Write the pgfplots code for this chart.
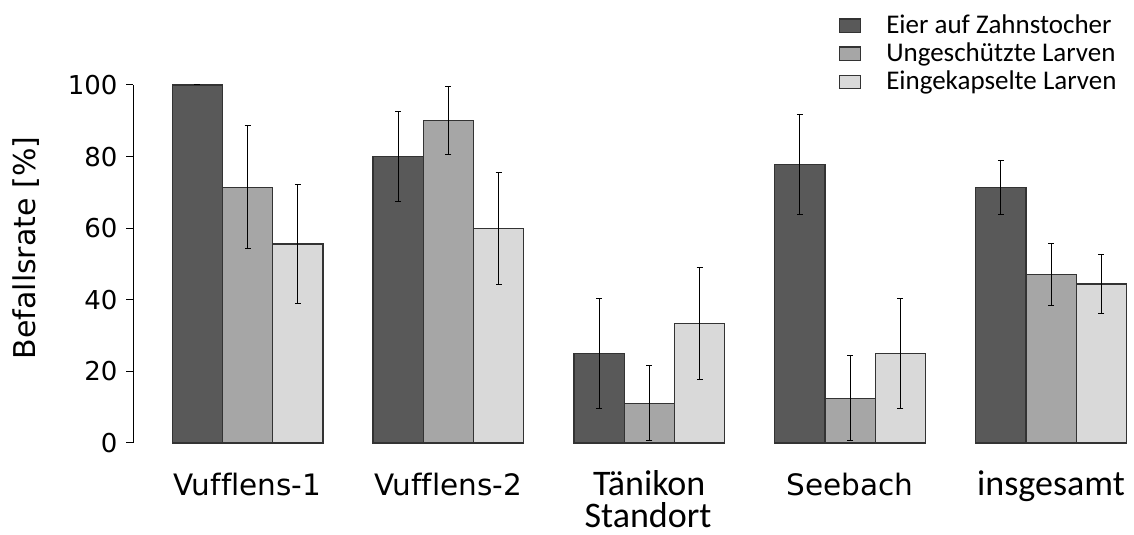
\documentclass[border=0pt]{standalone}
\usepackage{pgfplots}
\usepackage{pgfplotstable}
\pgfplotsset{compat=1.18}
\usepackage{fontspec}
\setmainfont[Ligatures=NoCommon]{DejaVu Sans}
\newfontfamily\calfont{Carlito}

\definecolor{dunkel}{HTML}{595959}
\definecolor{mittel}{HTML}{A6A6A6}
\definecolor{hell}{HTML}{D9D9D9}

% x  mean  +-error  (three series)
\pgfplotstableread{
x a    ae   b    be   c    ce
0 100  0    71.4 17.2 55.6 16.7
1 80.0 12.6 90.0 9.5  60.0 15.6
2 25.0 15.3 11.1 10.5 33.4 15.7
3 77.8 13.9 12.5 11.8 25.0 15.3
4 71.4 7.6  47.1 8.7  44.4 8.3
}\befall

\begin{document}
\begin{tikzpicture}
\begin{axis}[
    scale only axis,
    width=400.4pt, height=143.2pt,
    ybar=0pt, bar width=20.1pt,
    xmin=-0.570, xmax=4.413,
    ymin=0, ymax=100,
    clip=false,
    axis lines*=left,
    x axis line style={draw=none},
    xtick={0,1,2,3,4},
    xticklabels={Vufflens-1,Vufflens-2,{\calfont\fontsize{14.4}{17}\selectfont T\"anikon},Seebach,{\calfont\fontsize{14.4}{17}\selectfont insgesamt}},
    x tick style={draw=none},
    xticklabel style={anchor=base, yshift=-18.2pt, font=\fontsize{11.8}{14}\selectfont},
    ytick={0,20,...,100},
    ytick pos=left,
    tick align=outside,
    major tick length=2.7pt,
    y tick style={black, line width=0.4pt},
    y axis line style={line width=0.4pt},
    yticklabel style={font=\fontsize{10.4}{12}\selectfont},
    /pgf/number format/assume math mode=true,
    ylabel={Befallsrate [\%]},
    ylabel style={at={(axis description cs:-0.1069,0.5447)}, anchor=center, font=\fontsize{12}{14}\selectfont},
    xlabel={Standort},
    xlabel style={at={(axis description cs:0.5145,-0.2374)}, anchor=base, inner sep=0pt, font=\calfont\fontsize{14.4}{17}\selectfont},
    legend style={draw=none, fill=none, at={(axis description cs:0.7043,1.1941)}, anchor=north west,
      inner sep=0pt, font=\calfont\fontsize{10.8}{13}\selectfont,
      nodes={inner sep=0pt, text height=7pt, text depth=4.3pt},
      /tikz/every odd column/.append style={column sep=10.2pt}},
    legend cell align=left,
    legend image code/.code={\draw[#1] (0pt,-0.8pt) rectangle (8.4pt,4.5pt);},
    error bars/y dir=both,
    error bars/y explicit,
    error bars/error bar style={black, line width=0.4pt},
    error bars/error mark options={rotate=90, mark size=1.2pt, line width=0.4pt, black},
  ]
  \addplot[fill=dunkel, draw=black!80, line width=0.5pt] table[x=x, y=a, y error=ae] {\befall};
  \addplot[fill=mittel, draw=black!80, line width=0.5pt] table[x=x, y=b, y error=be] {\befall};
  \addplot[fill=hell, draw=black!80, line width=0.5pt] table[x=x, y=c, y error=ce] {\befall};
  \legend{Eier auf Zahnstocher,Ungesch\"utzte Larven,Eingekapselte Larven}
  \coordinate (bl) at (axis description cs:-0.1329,-0.257);
  \coordinate (tr) at (axis description cs:1.0,1.2374);
\end{axis}
\pgfresetboundingbox
\path (bl) rectangle (tr);
\end{tikzpicture}
\end{document}
